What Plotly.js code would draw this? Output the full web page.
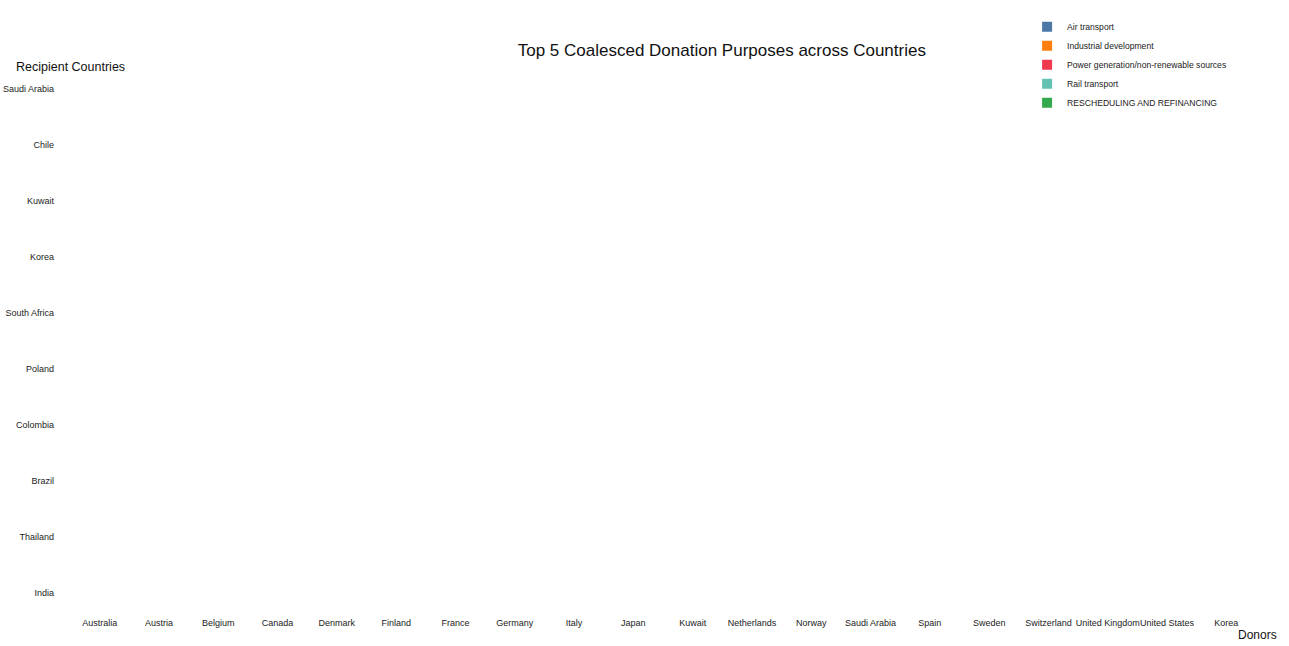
<!DOCTYPE html>
<html>
<head>
<meta charset="utf-8">
<script src="https://cdn.plot.ly/plotly-3.0.1.min.js"></script>
<style>html,body{margin:0;padding:0;background:#fff;}#chart{width:1289px;height:646px;}</style>
</head>
<body>
<div id="chart"></div>
<script>
// Donors (x axis categories)
const donors = ["Australia","Austria","Belgium","Canada","Denmark","Finland","France","Germany","Italy","Japan","Kuwait","Netherlands","Norway","Saudi Arabia","Spain","Sweden","Switzerland","United Kingdom","United States","Korea"];
// Recipient countries (y axis categories, bottom to top)
const recipients = ["India","Thailand","Brazil","Colombia","Poland","South Africa","Korea","Kuwait","Chile","Saudi Arabia"];
// Purposes (legend)
const purposes = ["Air transport","Industrial development","Power generation/non-renewable sources","Rail transport","RESCHEDULING AND REFINANCING"];
const purposeColors = ["#4c78a8","#ff7f0e","#f0394f","#63c2b4","#33a84c"];
// No marks are visible in the reference: each purpose has no drawn points
const purposeDonors = [[null],[null],[null],[null],[null]];
const purposeRecipients = [[null],[null],[null],[null],[null]];

const traces = purposes.map((p,i)=>({
  type:'scatter', mode:'markers', name:p,
  x: purposeDonors[i], y: purposeRecipients[i],
  marker:{symbol:'square', size:10, color:purposeColors[i]}
}));
// axis category scaffolding (no visible marks)
traces.push({type:'scatter', mode:'none', x:donors, y:donors.map((d,i)=>recipients[i%recipients.length]), showlegend:false, hoverinfo:'skip'});

const font = "Liberation Sans, Arial, Helvetica, sans-serif";
const layout = {
  width:1289, height:646,
  margin:{l:70, r:33, t:61, b:30},
  paper_bgcolor:'#fff', plot_bgcolor:'#fff',
  font:{family:font, size:9, color:'#222'},
  title:{text:'Top 5 Coalesced Donation Purposes across Countries', font:{family:font, size:17, color:'#111'}, x:0.56, xanchor:'center', y:0.922, yanchor:'middle'},
  xaxis:{type:'category', categoryorder:'array', categoryarray:donors, range:[-0.5,19.5], showgrid:false, zeroline:false, showline:false, ticks:'', tickangle:0, tickfont:{size:9, color:'#222'}},
  yaxis:{type:'category', categoryorder:'array', categoryarray:recipients, range:[-0.41,9.5], showgrid:false, zeroline:false, showline:false, ticks:'', tickfont:{size:9, color:'#222'}, ticklabelstandoff:15},
  legend:{x:0.807, xanchor:'left', y:1.088, yanchor:'top', font:{size:8.6, color:'#222'}, bgcolor:'rgba(0,0,0,0)'},
  annotations:[
    {text:'Recipient Countries', xref:'paper', yref:'paper', x:0.0, y:1.0, xanchor:'center', yanchor:'middle', yshift:-6, showarrow:false, font:{size:12.5, color:'#111'}},
    {text:'Donors', xref:'paper', yref:'paper', x:1.0, y:0, xanchor:'center', yanchor:'top', yshift:-10, xshift:1, showarrow:false, font:{size:12, color:'#111'}}
  ],
  showlegend:true
};
Plotly.newPlot('chart', traces, layout, {displayModeBar:false, staticPlot:true});
</script>
</body>
</html>
